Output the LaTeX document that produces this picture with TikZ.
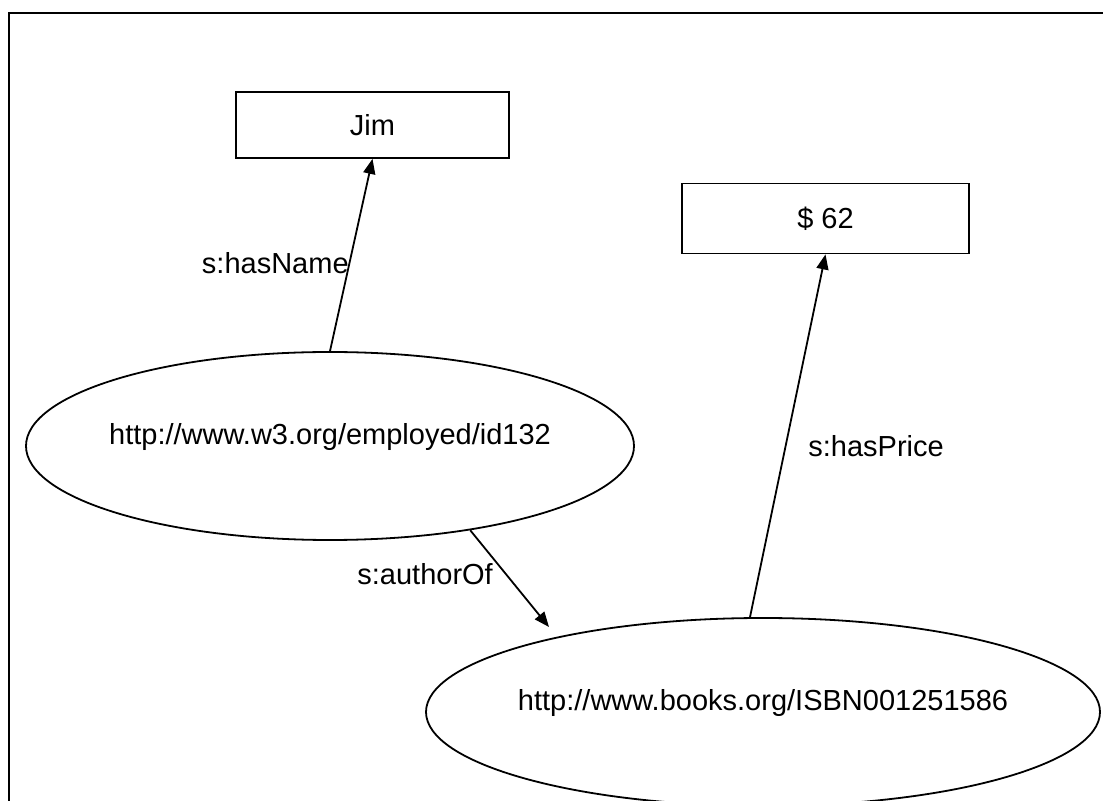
\documentclass[tikz,border=0pt]{standalone}
\usepackage{fontspec}
\setmainfont{Liberation Sans}
\usetikzlibrary{shapes.geometric, arrows.meta}

\begin{document}
\begin{tikzpicture}[x=0.5pt, y=-0.5pt,
  literal/.style={draw, line width=0.9pt, inner sep=0pt, font=\fontsize{14.5}{17}\selectfont},
  resource/.style={draw, ellipse, line width=0.9pt, inner sep=0pt, text height=0pt, font=\fontsize{14.5}{17}\selectfont},
  prop/.style={-{Triangle[length=7.5pt, width=6pt]}, line width=0.9pt},
  lbl/.style={inner sep=0pt, font=\fontsize{14.5}{17}\selectfont}]
  \useasboundingbox (0,0) rectangle (1103,801);
  % Frame
  \draw[line width=1.25pt] (9,900) -- (9,13) -- (1200,13);
  % Literals
  \node[literal, minimum width=136.5pt, minimum height=33pt] (jim) at (372.5,125) {Jim};
  \node[literal, minimum width=143.5pt, minimum height=35pt] (price) at (825.5,218.5) {\$ 62};
  % Resources
  \node[resource, minimum width=304pt, minimum height=94pt, text depth=1pt] (emp) at (330,446)
    {\makebox[0pt]{http://www.w3.org/employed/id132}};
  \node[resource, minimum width=337pt, minimum height=94pt, text depth=2pt] (book) at (763,712)
    {\makebox[0pt]{http://www.books.org/ISBN001251586}};
  \coordinate (bookTip) at (549,627);
  % Properties
  \draw[prop] (emp.north) -- (jim.south)
    node[lbl, pos=0.46, anchor=east] {s:hasName};
  \draw[prop] ([xshift=-6.5pt]book.north) -- (price.south)
    node[lbl, pos=0.47, anchor=west, xshift=11pt] {s:hasPrice};
  \draw[prop] (emp.-31) -- (bookTip)
    node[lbl, pos=0.45, anchor=east, xshift=-6pt] {s:authorOf};
\end{tikzpicture}
\end{document}
